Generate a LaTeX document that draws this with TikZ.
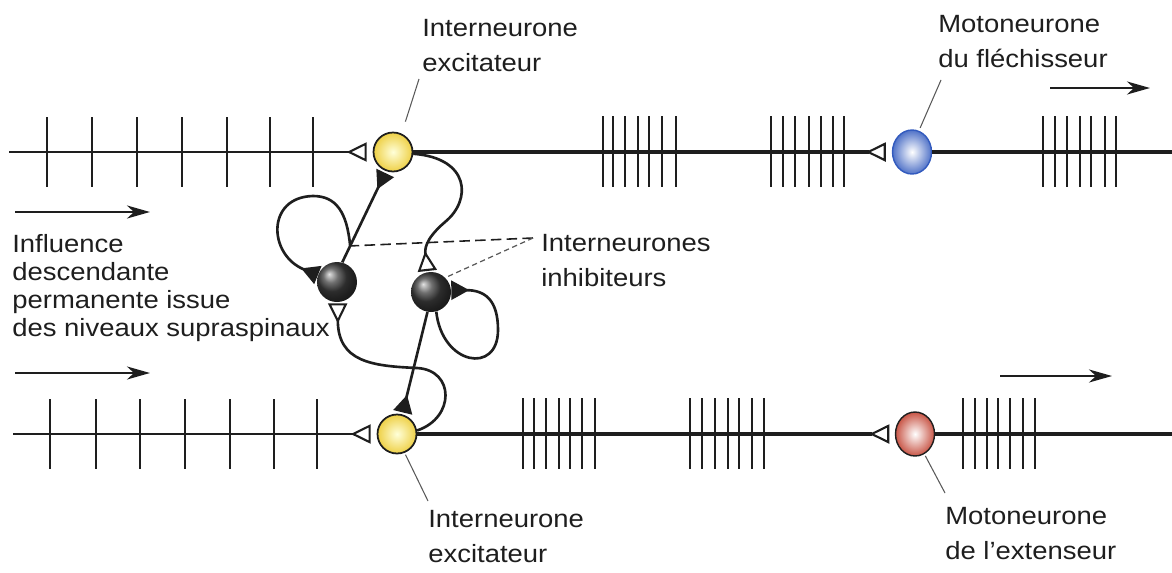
\documentclass[tikz,border=0pt]{standalone}
\usepackage{fontspec}
\setmainfont{Liberation Sans}[FakeStretch=1.1]
\usetikzlibrary{arrows.meta, shapes.geometric, calc}
\definecolor{yelneur}{RGB}{238,208,70}
\definecolor{flexblue}{RGB}{50,90,190}
\definecolor{extred}{RGB}{200,85,70}
\definecolor{inkgray}{RGB}{30,30,30}

\begin{document}
\begin{tikzpicture}[
  x=0.02cm, y=-0.02cm,
  axon/.style={line width=1.5pt, inkgray},
  spike/.style={line width=1.4pt, inkgray},
  ynrn/.style={circle, draw=inkgray, line width=1pt, minimum size=0.78cm, inner sep=0pt,
               inner color=yellow!15, outer color=yelneur},
  knrn/.style={circle, minimum size=0.8cm, inner sep=0pt, shading=ball, ball color=black!75},
  mnrn/.style={ellipse, minimum width=0.78cm, minimum height=0.88cm, inner sep=0pt, line width=0.8pt},
  opensyn/.style={-{Triangle[open, reversed, length=4mm, width=3.8mm, line width=1.2pt]}},
  fillsyn/.style={-{Triangle[reversed, length=3.6mm, width=3.8mm]}},
  dirarrow/.style={line width=1.3pt, inkgray, -{Stealth[length=4.6mm, width=2.6mm, inset=1.4mm]}},
  leader/.style={line width=0.6pt, gray!70!black},
  lbl/.style={inner sep=0pt, align=left, text=inkgray, anchor=north west,
              font=\fontsize{14.2}{19.8}\selectfont}
]
\useasboundingbox (0,0) rectangle (1172,572);

\node[ynrn] (yT) at (393,152) {};
\node[ynrn] (yB) at (397,434) {};
\node[knrn] (kL) at (337,282) {};
\node[knrn] (kR) at (431,292) {};
\node[mnrn, draw=flexblue, inner color=white, outer color=flexblue!85] (mF) at (912,152) {};
\node[mnrn, draw=inkgray, inner color=white, outer color=extred] (mE) at (915,434) {};

\coordinate (inT) at (9,152);
\coordinate (outT) at (1172,152);
\coordinate (inB) at (13,434);
\coordinate (outB) at (1172,434);

\draw[axon, line width=1.2pt, opensyn, shorten >=1.2mm] (inT) -- (yT);
\draw[axon, line width=1.8pt, opensyn, shorten >=1.2mm] (yT) -- (mF);
\draw[axon, line width=1.8pt] (mF) -- (outT);
\draw[axon, line width=1.2pt, opensyn, shorten >=1.2mm] (inB) -- (yB);
\draw[axon, line width=1.8pt, opensyn, shorten >=1.1mm] (yB) -- (mE);
\draw[axon, line width=1.8pt] (mE) -- (outB);

\foreach \x in {47,92,137,182,227,270,313}
  \draw[spike] (\x,117) -- (\x,187);
\foreach \x in {603,613,625,638,649,662,676,771,783,795,809,821,833,844,1043,1055,1067,1080,1091,1105,1116}
  \draw[spike] (\x,116) -- (\x,187);
\foreach \x in {50,96,140,185,230,274,317}
  \draw[spike] (\x,399) -- (\x,469);
\foreach \x in {523,534,546,559,570,582,595,690,702,715,728,739,752,764,963,975,987,998,1010,1023,1035}
  \draw[spike] (\x,398) -- (\x,469);

\coordinate (fkL) at ($(kL.75)!0.18!(yT.250)$);
\draw[axon, fillsyn, shorten >=0.4mm] (kL.75) -- (yT.250);
\draw[axon, fillsyn] (fkL) .. controls (347,212) and (336,196) .. (313,196)
  .. controls (266,197) and (268,255) .. (kL.160);
\draw[axon, fillsyn, shorten >=0.4mm] (kR.260) -- (yB.75);
\draw[axon, fillsyn] (kR.285) .. controls (442,365) and (498,375) .. (498,330)
  .. controls (498,300) and (485,290) .. (kR.5);
\draw[axon, opensyn, shorten >=0.2mm] (yT.-5) .. controls (470,158) and (472,200) .. (445,222)
  .. controls (424,240) and (425,250) .. (kR.100);
\draw[axon, opensyn, shorten >=0.2mm] (yB.10) .. controls (455,418) and (455,370) .. (417,368)
  .. controls (372,366) and (338,362) .. (kL.272);

\coordinate (pInh) at (533,238);
\draw[leader, line width=0.9pt, inkgray, dash pattern=on 6pt off 3pt] (pInh) -- (fkL);
\draw[leader, line width=0.7pt, densely dashed] (pInh) -- (kR.45);

\node[lbl] (tIexT) at (422,19) {Interneurone\\excitateur};
\node[lbl] (tMoF) at (938,15) {Motoneurone\\du fléchisseur};
\node[lbl] (tInh) at (541,234) {Interneurones\\inhibiteurs};
\node[lbl, font=\fontsize{14.2}{15.9}\selectfont] (tDesc) at (12,234)
  {Influence\\descendante\\permanente issue\\des niveaux supraspinaux};
\node[lbl] (tIexB) at (428,510) {Interneurone\\excitateur};
\node[lbl] (tMoE) at (945,507) {Motoneurone\\de l'extenseur};

\coordinate (pIexT) at (419,79);
\coordinate (pMoF) at (941,80);
\coordinate (pIexB) at (428,501);
\coordinate (pMoE) at (945,493);
\draw[leader, shorten >=2.5mm] (pIexT) -- (yT.65);
\draw[leader, shorten >=0.6mm] (pMoF) -- (mF.72);
\draw[leader, shorten <=0.4mm] (yB.-68) -- (pIexB);
\draw[leader, shorten <=0.4mm] (mE.-65) -- (pMoE);

\coordinate (dA1) at (15,212);
\coordinate (dA2) at (150,212);
\coordinate (dA3) at (15,373);
\coordinate (dA4) at (150,373);
\coordinate (dA5) at (1050,88);
\coordinate (dA6) at (1150,88);
\coordinate (dA7) at (1000,376);
\coordinate (dA8) at (1112,376);
\draw[dirarrow] (dA1) -- (dA2);
\draw[dirarrow] (dA3) -- (dA4);
\draw[dirarrow] (dA5) -- (dA6);
\draw[dirarrow] (dA7) -- (dA8);
\end{tikzpicture}
\end{document}
